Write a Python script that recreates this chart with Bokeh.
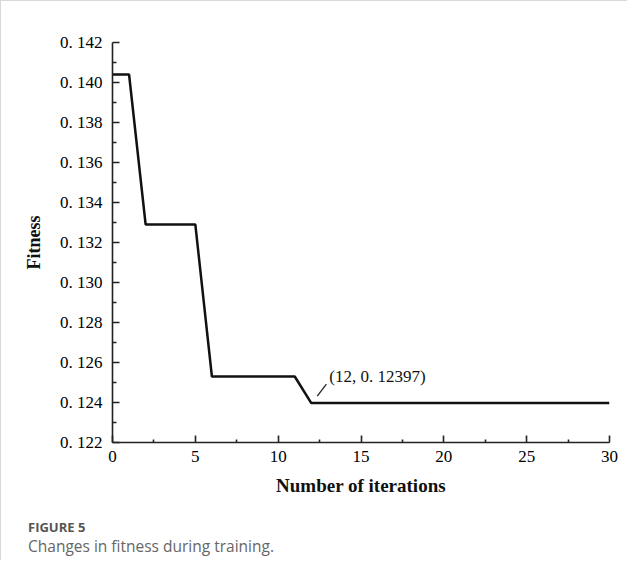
from bokeh.plotting import figure
from bokeh.models import Range1d, FixedTicker, Label, ColumnDataSource, Div
from bokeh.layouts import column
from bokeh.embed import file_html
from bokeh.resources import INLINE

# ---- data ----
iterations = [0, 1, 2, 5, 6, 11, 12, 30]
fitness = [0.1404, 0.1404, 0.1329, 0.1329, 0.1253, 0.1253, 0.12397, 0.12397]

x_ticks = [0, 5, 10, 15, 20, 25, 30]
x_minor = [2.5, 7.5, 12.5, 17.5, 22.5, 27.5]
y_ticks = [0.122, 0.124, 0.126, 0.128, 0.13, 0.132, 0.134, 0.136, 0.138, 0.14, 0.142]
y_tick_labels = ["0. 122", "0. 124", "0. 126", "0. 128", "0. 130", "0. 132",
                 "0. 134", "0. 136", "0. 138", "0. 140", "0. 142"]
y_minor = [0.123, 0.125, 0.127, 0.129, 0.131, 0.133, 0.135, 0.137, 0.139, 0.141]

best_x, best_y = 12, 0.12397
best_text = "(12, 0. 12397)"

caption_title = "FIGURE 5"
caption_text = "Changes in fitness during training."

SERIF = "Liberation Serif"

p = figure(width=626, height=505, output_backend="svg", toolbar_location=None,
           x_range=Range1d(0, 30), y_range=Range1d(0.122, 0.142),
           min_border_left=111, min_border_right=18, min_border_top=41,
           min_border_bottom=64)
p.outline_line_color = None
p.xgrid.grid_line_color = None
p.ygrid.grid_line_color = None
p.background_fill_color = "white"
p.border_fill_color = "white"

src = ColumnDataSource(dict(x=iterations, y=fitness))
p.line("x", "y", source=src, line_color="#111111", line_width=2.5)

# axes
xa = p.xaxis[0]
xa.ticker = FixedTicker(ticks=x_ticks, minor_ticks=x_minor)
ya = p.yaxis[0]
ya.ticker = FixedTicker(ticks=y_ticks, minor_ticks=y_minor)
ya.major_label_overrides = {t: l for t, l in zip(y_ticks, y_tick_labels)}

for ax in (xa, ya):
    ax.axis_line_color = "#222222"
    ax.axis_line_width = 1.6
    ax.major_tick_line_color = "#222222"
    ax.major_tick_line_width = 1.6
    ax.minor_tick_line_color = "#222222"
    ax.minor_tick_line_width = 1.6
    ax.major_tick_in = 7
    ax.major_tick_out = 0
    ax.major_label_text_font = SERIF
    ax.major_label_text_font_size = "17px"
    ax.major_label_text_color = "#000000"
    ax.axis_label_text_font = SERIF
    ax.axis_label_text_font_style = "bold"
    ax.axis_label_text_color = "#111111"

xa.axis_label_text_font_size = "19px"
ya.axis_label_text_font_size = "18px"
xa.minor_tick_in = 3
xa.minor_tick_out = 0
ya.minor_tick_in = 4
ya.minor_tick_out = 0
xa.major_label_standoff = 8
ya.major_label_standoff = 10
xa.axis_label = "Number of iterations"
ya.axis_label = "Fitness"
xa.axis_label_standoff = 10
ya.axis_label_standoff = 13

# annotation
p.segment(x0=[best_x + 0.36], y0=[best_y + 0.00035],
          x1=[best_x + 0.91], y1=[best_y + 0.00095],
          line_color="#222222", line_width=1.3)
p.add_layout(Label(x=best_x, y=best_y, x_offset=18, y_offset=27, text=best_text,
                   text_font=SERIF, text_font_size="17px", text_color="#111111",
                   text_baseline="middle", text_align="left"))

# caption
cap = Div(
    text=(f'<div style="font-family:\'Open Sans\';font-weight:bold;font-size:13px;'
          f'line-height:18px;color:#555555;white-space:nowrap">{caption_title}</div>'
          f'<div style="font-family:\'Open Sans\';font-size:15.5px;line-height:21px;'
          f'color:#666666;white-space:nowrap">{caption_text}</div>'),
    width=420, height=42, margin=(12, 0, 0, 27))

layout = column(p, cap, spacing=0)
layout.styles = {"border-left": "1px solid #d9d9d9", "border-top": "1px solid #d9d9d9"}

open("out.html", "w").write(file_html(layout, INLINE))
